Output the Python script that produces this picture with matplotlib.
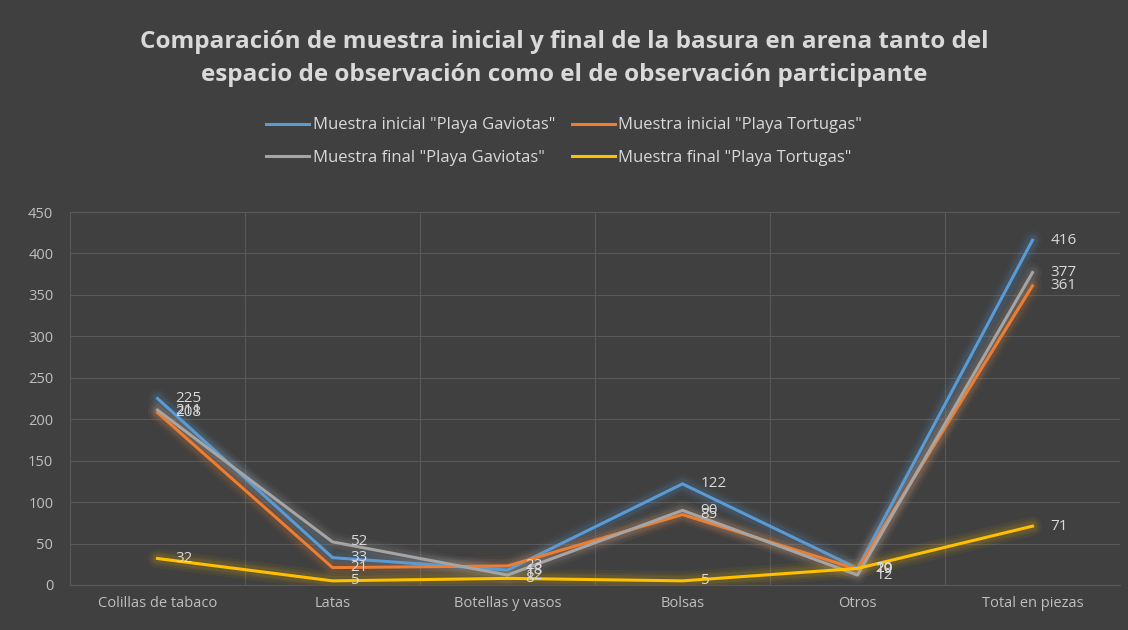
import numpy as np
import matplotlib.pyplot as plt

categorias = ["Colillas de tabaco", "Latas", "Botellas y vasos", "Bolsas", "Otros", "Total en piezas"]
inicial_gaviotas = [225, 33, 18, 122, 20, 416]
inicial_tortugas = [208, 21, 23, 85, 19, 361]
final_gaviotas = [211, 52, 12, 90, 12, 377]
final_tortugas = [32, 5, 8, 5, 20, 71]

series = [
    ('Muestra inicial "Playa Gaviotas"', inicial_gaviotas, "#5b9bd5"),
    ('Muestra inicial "Playa Tortugas"', inicial_tortugas, "#ed7d31"),
    ('Muestra final "Playa Gaviotas"', final_gaviotas, "#a5a5a5"),
    ('Muestra final "Playa Tortugas"', final_tortugas, "#ffc000"),
]

bg = "#404040"
txt = "#d9d9d9"
plt.rcParams["font.family"] = ["Open Sans", "DejaVu Sans"]

fig = plt.figure(figsize=(11.28, 6.3), dpi=100, facecolor=bg)
ax = fig.add_axes([70 / 1128, 45 / 630, 1050 / 1128, 373 / 630], facecolor=bg)

x = np.arange(len(categorias))
handles = []
for nombre, vals, col in series:
    # soft glow behind each line
    for lw, a in [(14, 0.05), (10, 0.07), (7, 0.09)]:
        ax.plot(x, vals, color=col, lw=lw, alpha=a, solid_capstyle="round", zorder=2)
    h, = ax.plot(x, vals, color=col, lw=2.2, label=nombre, zorder=3)
    handles.append(h)
    for xi, v in zip(x, vals):
        ax.annotate(str(v), (xi, v), xytext=(13, 0), textcoords="offset points",
                    va="center", ha="left", color=txt, fontsize=11, zorder=4)

ax.set_xlim(-0.5, len(categorias) - 0.5)
ax.set_ylim(0, 450)
ax.set_yticks(range(0, 451, 50))
ax.set_xticks(x)
ax.set_xticklabels(categorias)
ax.set_xticks(np.arange(0.5, len(categorias) - 0.5, 1), minor=True)
ax.tick_params(axis="both", which="both", length=0, colors="#bfbfbf", labelsize=10.5)
ax.tick_params(axis="x", pad=8)
ax.tick_params(axis="y", pad=12)
ax.grid(axis="y", color="#595959", lw=0.8)
ax.grid(axis="x", which="minor", color="#595959", lw=0.8)
for s in ["top", "right"]:
    ax.spines[s].set_visible(False)
ax.spines["left"].set_color("#595959")
ax.spines["bottom"].set_color("#595959")

fig.text(0.5, 0.907, "Comparación de muestra inicial y final de la basura en arena tanto del\n"
         "espacio de observación como el de observación participante",
         ha="center", va="center", color=txt, fontsize=17.5, fontweight="bold", linespacing=1.5)

# legend fills by column, so reorder to get blue/orange on the first row
orden = [handles[0], handles[2], handles[1], handles[3]]
fig.legend(handles=orden, labels=[h.get_label() for h in orden],
           loc="center", bbox_to_anchor=(0.5, 0.775), ncol=2, frameon=False,
           fontsize=12, labelcolor=txt, handlelength=2.6, handletextpad=0.2,
           columnspacing=1.0, labelspacing=1.0)

fig.savefig("out.png", dpi=100, facecolor=bg)
